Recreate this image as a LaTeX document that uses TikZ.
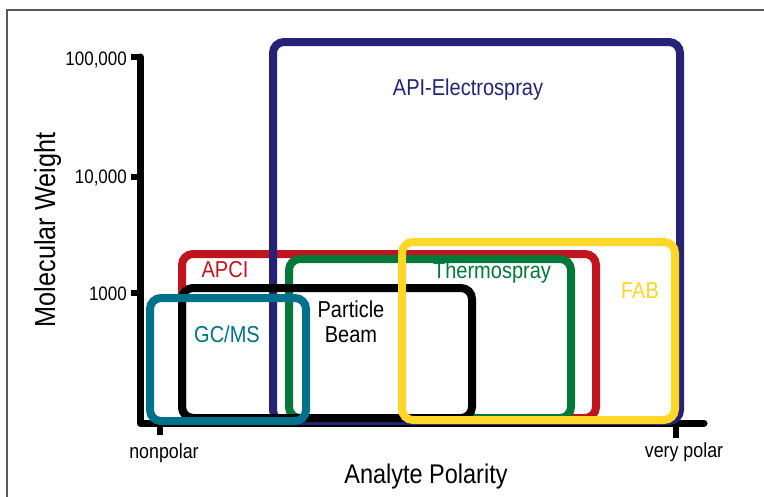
\documentclass[tikz,border=0pt]{standalone}
\usepackage{fontspec}
\setmainfont[FakeStretch=0.87]{Liberation Sans}
\definecolor{cBlue}{HTML}{262377}
\definecolor{cRed}{HTML}{C0141E}
\definecolor{cGreen}{HTML}{00783A}
\definecolor{cTeal}{HTML}{00718A}
\definecolor{cYellow}{HTML}{FFD726}
\begin{document}
\begin{tikzpicture}[x=1pt,y=-1pt,
  box/.style={line width=8pt, rounded corners=11pt},
  axisline/.style={line width=7pt, line cap=round, line join=round},
  tickline/.style={line width=6.5pt},
  lbl/.style={font=\fontsize{23}{27}\selectfont, anchor=base, inner sep=0pt},
  ticklbl/.style={font=\fontsize{19.5}{23}\selectfont, anchor=base east, inner sep=0pt},
  endlbl/.style={font=\fontsize{20.5}{24}\selectfont, anchor=base, inner sep=0pt},
  axlbl/.style={font=\fontsize{27}{32}\selectfont, inner sep=0pt}]
\useasboundingbox (0,0) rectangle (764,496);
% frame (cropped)
\draw[line width=1.2pt, black!65] (7,497) -- (7,10) -- (765,10);
% axes
\coordinate (ytop) at (140,57);
\coordinate (origin) at (140,423);
\coordinate (xend) at (704,423);
\draw[axisline] (ytop) -- (origin) -- (xend);
\foreach \yy/\name/\txt/\base in {57/t1/{100,000}/65, 177/t2/{10,000}/183, 293/t3/{1000}/300}{
  \coordinate (\name a) at (131,\yy);
  \coordinate (\name b) at (140,\yy);
  \draw[tickline] (\name a) -- (\name b);
  \node[ticklbl] (\name lbl) at (127,\base) {\txt};
}
\coordinate (xa) at (160,423);
\coordinate (xa2) at (160,435);
\coordinate (xb) at (676,423);
\coordinate (xb2) at (676,438);
\draw[tickline] (xa) -- (xa2);
\draw[tickline] (xb) -- (xb2);
\node[endlbl] (nonpolar) at (164,458) {nonpolar};
\node[endlbl] (verypolar) at (684,457) {very polar};
\node[axlbl, anchor=base] (xlabel) at (426,483) {Analyte Polarity};
\node[axlbl, rotate=90, font=\fontsize{29}{34}\selectfont, anchor=base] (ylabel) at (55,230) {Molecular Weight};
% technique regions
\draw[box, cRed] (182,254) rectangle (596,418);
\draw[box, cBlue] (273,42) rectangle (680,421);
\draw[box, cGreen] (289,259) rectangle (571,418);
\draw[box, black] (182,288) rectangle (472,418);
\draw[box, cTeal] (150,298) rectangle (306,421);
\draw[box, cYellow] (402,242) rectangle (675,420);
% labels
\node[lbl, text=cBlue] (api) at (468,95) {API-Electrospray};
\node[lbl, text=cRed] (apci) at (225,277) {APCI};
\node[lbl, text=cGreen] (thermo) at (492,278) {Thermospray};
\node[lbl, text=cYellow] (fab) at (640,298) {FAB};
\node[lbl, text=cTeal] (gcms) at (227,342) {GC/MS};
\node[lbl] (pb1) at (351,317) {Particle};
\node[lbl] (pb2) at (351,342) {Beam};
\end{tikzpicture}
\end{document}
